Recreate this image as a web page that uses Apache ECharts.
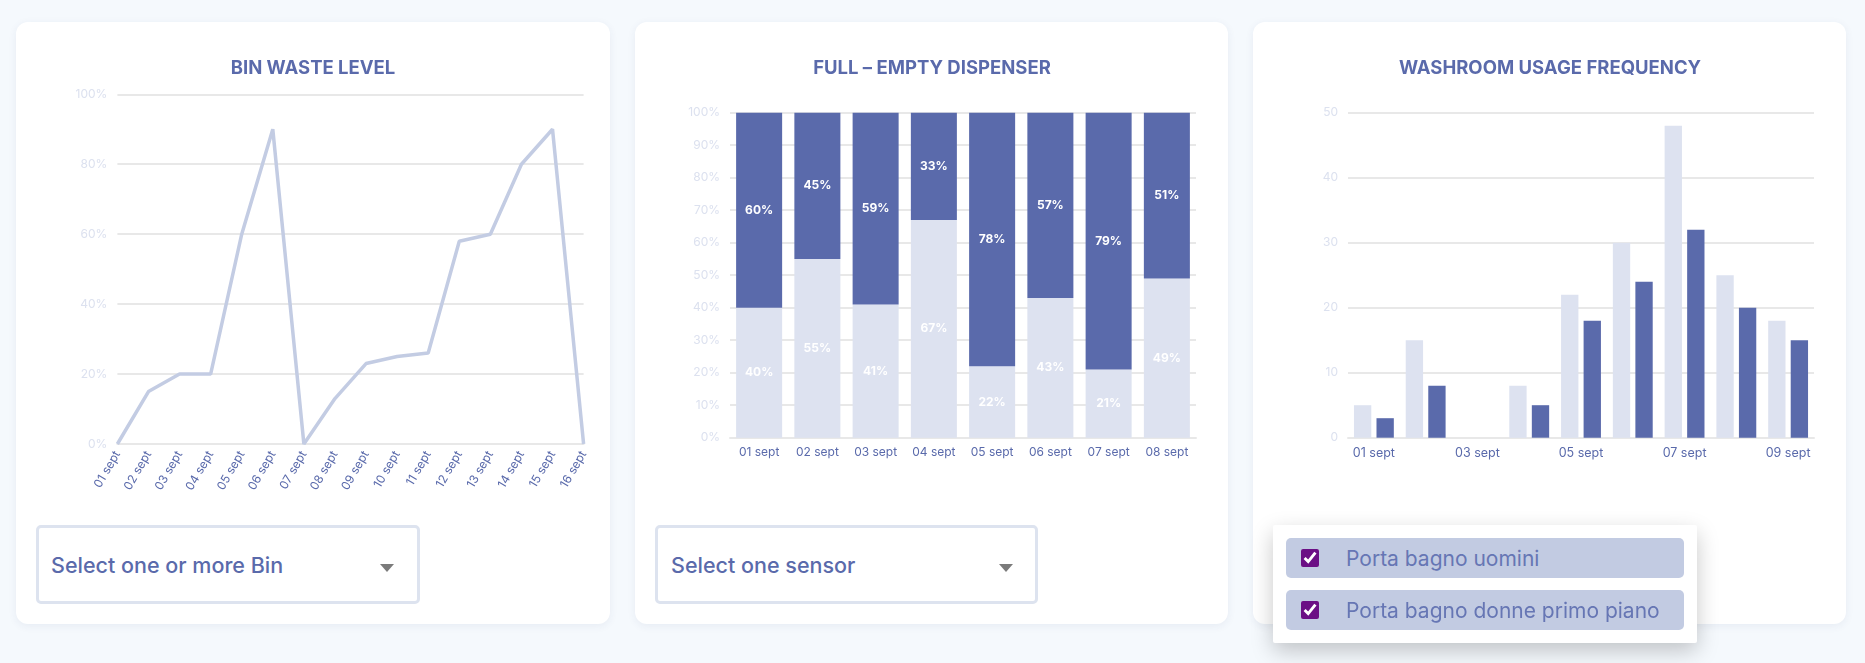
<!DOCTYPE html>
<html><head><meta charset="utf-8">
<script src="https://cdn.jsdelivr.net/npm/echarts@6/dist/echarts.min.js"></script>
<style>
html,body{margin:0;padding:0;background:#f5f9fd;width:1865px;height:663px;overflow:hidden;font-family:Inter,'Noto Sans',sans-serif;}
.card{position:absolute;top:22px;height:602px;background:#fff;border-radius:12px;box-shadow:0 2px 8px rgba(40,60,120,0.07);z-index:0;}
#chart{position:absolute;left:0;top:0;width:1865px;height:663px;z-index:1;}
.sel{position:absolute;top:525px;height:79px;box-sizing:border-box;border:3px solid #dde3ef;border-radius:5px;background:#fff;color:#5a6aab;font-size:21.5px;font-weight:500;z-index:2;}
.sel span{position:absolute;top:50%;transform:translateY(-50%);white-space:nowrap;}
.sel .arr{position:absolute;top:36px;width:0;height:0;border-left:7.5px solid transparent;border-right:7.5px solid transparent;border-top:8px solid #7b7b7b;}
#pop{position:absolute;left:1273px;top:525px;width:424px;height:118px;background:#fff;border-radius:2px;box-shadow:0 8px 22px rgba(0,0,0,0.22);z-index:3;}
.item{position:absolute;left:13px;width:398px;height:40px;background:#c2cbe2;border-radius:5px;color:#6676b4;font-size:21px;font-weight:400;}
.item input{position:absolute;left:15px;top:11px;width:18px;height:18px;margin:0;accent-color:#6b0f85;}
.item span{position:absolute;left:60px;top:50%;transform:translateY(-50%);white-space:nowrap;}
</style></head>
<body>
<div class="card" style="left:16px;width:594px;"></div>
<div class="card" style="left:635px;width:593px;"></div>
<div class="card" style="left:1253px;width:593px;"></div>
<div id="chart"></div>
<div class="sel" style="left:36px;width:384px;"><span style="left:12px;">Select one or more Bin</span><div class="arr" style="left:341px;"></div></div>
<div class="sel" style="left:655px;width:383px;"><span style="left:13px;">Select one sensor</span><div class="arr" style="left:341px;"></div></div>
<div id="pop">
  <div class="item" style="top:13px;"><input type="checkbox" checked><span>Porta bagno uomini</span></div>
  <div class="item" style="top:65px;"><input type="checkbox" checked><span>Porta bagno donne primo piano</span></div>
</div>
<script>
const titles = ['BIN WASTE LEVEL', 'FULL – EMPTY DISPENSER', 'WASHROOM USAGE FREQUENCY'];
const binDays = ['01 sept','02 sept','03 sept','04 sept','05 sept','06 sept','07 sept','08 sept','09 sept','10 sept','11 sept','12 sept','13 sept','14 sept','15 sept','16 sept'];
const binLevel = [0,15,20,20,60,90,0,13,23,25,26,58,60,80,90,0];
const dispDays = ['01 sept','02 sept','03 sept','04 sept','05 sept','06 sept','07 sept','08 sept'];
const dispEmpty = [40,55,41,67,22,43,21,49];
const dispFull = [60,45,59,33,78,57,79,51];
const usageDays = ['01 sept','02 sept','03 sept','04 sept','05 sept','06 sept','07 sept','08 sept','09 sept'];
const usageMen = [5,15,0,8,22,30,48,25,18];
const usageWomen = [3,8,0,5,18,24,32,20,15];
const usageNames = ['Porta bagno uomini','Porta bagno donne primo piano'];

const FONT = 'Inter';
const BLUE = '#5a6aab', PALE = '#dde2f0', LINE = '#c3cce3', GRIDC = '#e8e8e8', YLAB = '#dce1ef';

const chart = echarts.init(document.getElementById('chart'), null, {renderer:'canvas'});
function yAx(gi, max, interval, pct, fs){
  return {type:'value', gridIndex:gi, min:0, max:max, interval:interval,
    axisLine:{show:false}, axisTick:{show:false},
    axisLabel:{color:YLAB, fontSize:fs, fontFamily:FONT, margin:10, formatter: pct ? '{value}%' : '{value}'},
    splitLine:{lineStyle:{color:GRIDC, width:2}}};
}
function xAx(gi, data, extra){
  return Object.assign({type:'category', gridIndex:gi, data:data,
    axisLine:{show:true, lineStyle:{color:GRIDC, width:2}}, axisTick:{show:false},
    axisLabel:{color:BLUE, fontSize:12, fontFamily:FONT, margin:9, interval:0}}, extra||{});
}
const titleX = [313, 932, 1550];
chart.setOption({
  backgroundColor:'transparent',
  animation:false,
  textStyle:{fontFamily:FONT},
  graphic: titles.map((t,i)=>({type:'text', x:titleX[i], y:68, z:10,
    style:{text:t, align:'center', verticalAlign:'middle', textAlign:'center', textVerticalAlign:'middle',
      font:'bold 18.5px ' + FONT, fill:BLUE}})),
  grid:[
    {left:117.4, top:94.3, width:466.2, height:349.7, outerBoundsMode:'none', containLabel:false},
    {left:730, top:112.7, width:466, height:325, outerBoundsMode:'none', containLabel:false},
    {left:1348, top:112.7, width:466, height:325, outerBoundsMode:'none', containLabel:false}
  ],
  xAxis:[
    xAx(0, binDays, {boundaryGap:false, axisLabel:{color:BLUE, fontSize:12, fontFamily:FONT, margin:8, rotate:60, interval:0}}),
    xAx(1, dispDays),
    xAx(2, usageDays, {axisLabel:{color:BLUE, fontSize:12.5, fontFamily:FONT, margin:9, interval:1}})
  ],
  yAxis:[ yAx(0,100,20,true,12), yAx(1,100,10,true,12), yAx(2,50,10,false,12) ],
  series:[
    {type:'line', xAxisIndex:0, yAxisIndex:0, data:binLevel, symbol:'none', lineStyle:{color:LINE, width:3.5}, itemStyle:{color:LINE}},
    {type:'bar', name:'Empty', xAxisIndex:1, yAxisIndex:1, stack:'d', data:dispEmpty, barCategoryGap:'21%',
      itemStyle:{color:PALE},
      label:{show:true, position:'inside', formatter:'{c}%', color:'#fff', fontWeight:'bold', fontSize:12, fontFamily:FONT}},
    {type:'bar', name:'Full', xAxisIndex:1, yAxisIndex:1, stack:'d', data:dispFull, barCategoryGap:'21%',
      itemStyle:{color:BLUE},
      label:{show:true, position:'inside', formatter:'{c}%', color:'#fff', fontWeight:'bold', fontSize:12, fontFamily:FONT}},
    {type:'bar', name:usageNames[0], xAxisIndex:2, yAxisIndex:2, data:usageMen, barCategoryGap:'23%', barGap:'30%', itemStyle:{color:PALE}},
    {type:'bar', name:usageNames[1], xAxisIndex:2, yAxisIndex:2, data:usageWomen, barCategoryGap:'23%', barGap:'30%', itemStyle:{color:BLUE}}
  ]
});
</script>
</body></html>
